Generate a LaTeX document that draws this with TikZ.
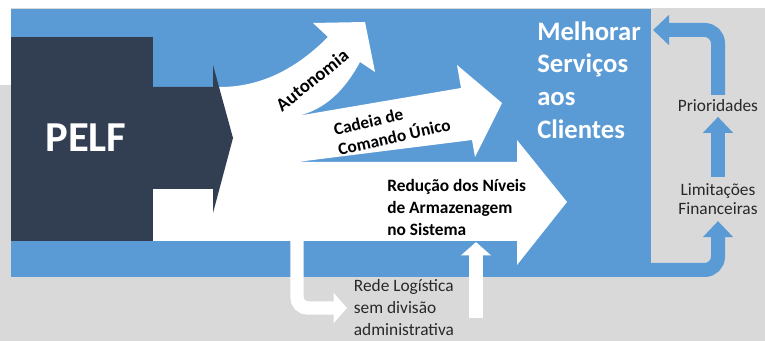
\documentclass[tikz,border=0pt]{standalone}
\usepackage{fontspec}
\setmainfont{Carlito}                 % métriques de Calibri
\usepackage{tikz}
\usetikzlibrary{calc,                 % Calculs de coordonnées entre $ $
           positioning,               % placement relatif
           arrows.meta}               % pointes Triangle
\definecolor{bleu}{RGB}{91,155,213}
\definecolor{nuit}{RGB}{50,62,82}
\definecolor{gris}{RGB}{217,217,217}
\definecolor{texte}{RGB}{40,40,40}
\tikzset{boucle/.style={draw=bleu, line width=10.5pt, rounded corners=10pt,
                        -{Triangle[width=22pt,length=12pt]}},
         flechette/.style={draw=white, line width=10pt, rounded corners=8pt,
                        -{Triangle[width=22pt,length=10pt]}},
         petit/.style={font=\fontsize{13}{13.75}\selectfont, text=texte, align=center}}

\begin{document}
\begin{tikzpicture}[x=0.75pt,y=-0.75pt]
\useasboundingbox (0,0) rectangle (765,341);
\fill[white] (0,0) rectangle (765,341);
\fill[gris] (0,8) rectangle (765,341);
\fill[white] (0,8) rectangle (11,85);
\fill[bleu] (11,9) rectangle (651,277);
\fill[white] (153,241) -- (153,189) -- (213,189) -- (213,87) -- (220,87)
   .. controls (265,87) and (300,65) .. (328,37) -- (313,23) -- (365,22) -- (375,72) -- (360,62)
   .. controls (345,90) and (325,110) .. (297,116) -- (461,88) -- (457,65) -- (502,103)
   -- (475,157) -- (472,140) -- (297,162) -- (517,162) -- (517,140) -- (567,202)
   -- (517,265) -- (517,241) -- cycle;
\fill[nuit] (11,37) rectangle (153,241);
\fill[nuit] (153,87) -- (213,87) -- (213,65) -- (233,138) -- (213,213) -- (213,189) -- (153,189) -- cycle;
\node[font=\fontsize{32}{36}\selectfont\bfseries, text=white] (pelf) at (86,138) {PELF};
\node[font=\fontsize{14}{16}\selectfont\bfseries, rotate=38.6, inner sep=1pt] (auto) at (312,80) {Autonomia};
\node[font=\fontsize{13}{15.2}\selectfont\bfseries, rotate=12.6, align=left, inner sep=1pt] (cad) at (392,127) {Cadeia de\\Comando Único};
\node[font=\fontsize{13}{16.5}\selectfont\bfseries, align=left, anchor=west, inner xsep=0, inner ysep=5pt] (red) at (387,207) {Redução dos Níveis\\de Armazenagem\\no Sistema};
\node[font=\fontsize{20}{24.4}\selectfont\bfseries, text=white, align=left, anchor=west, inner sep=0] (mel) at (537,80) {Melhorar\\Serviços\\aos\\Clientes};
\node[petit, font=\fontsize{13}{16.5}\selectfont, align=left, anchor=west, inner xsep=5pt] (rede) at (347,308) {Rede Logística\\sem divisão\\administrativa};
\node[petit, inner sep=5pt] (lim) at (718,199) {Limitações\\Financeiras};
\node[petit, inner sep=3.5pt, above=45pt of lim] (prio) {Prioridades};
\coordinate (bande) at (640,270);
\coordinate (cible) at (653,30);
\coordinate (derive) at (297,236);
\coordinate (pied) at (476,318);
\draw[boucle] (bande) -| (lim.south);
\draw[boucle] (lim.north) -- (prio.south);
\draw[boucle] (prio.north) |- (cible);
\draw[flechette] (derive) |- (rede.west);
\draw[flechette] (pied) -- (pied |- red.south);
\end{tikzpicture}
\end{document}
